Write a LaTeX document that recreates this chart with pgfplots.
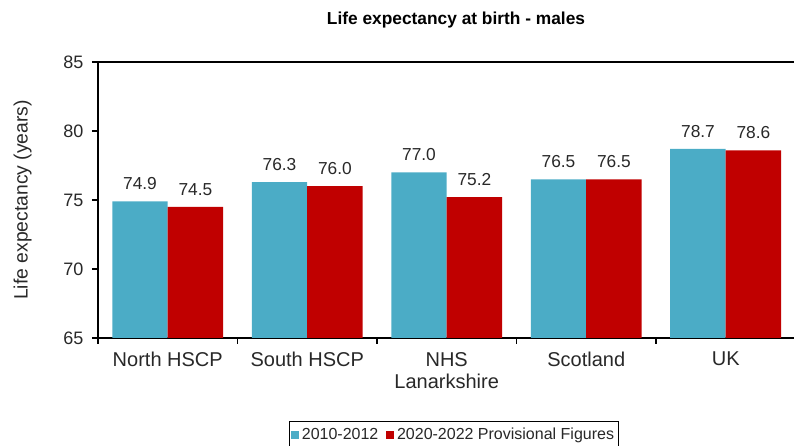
\documentclass[border=0pt]{standalone}
\usepackage{fontspec}
\setmainfont{Liberation Sans}
\usepackage{pgfplots}
\pgfplotsset{compat=1.18}
\definecolor{tealbar}{RGB}{75,172,198}
\definecolor{redbar}{RGB}{192,0,0}
\definecolor{txt}{RGB}{40,40,40}

\begin{document}
\begin{tikzpicture}
\path[use as bounding box] (0pt,0pt) rectangle (595.5pt,334.5pt);
\begin{axis}[
    at={(73.5pt,81pt)}, anchor=south west,
    scale only axis,
    width=523.1pt, height=207pt,
    ybar=0pt, bar width=41.6pt,
    xmin=-0.5, xmax=4.5,
    ymin=65, ymax=85,
    ytick={65,70,75,80,85},
    xtick={0,1,2,3,4},
    xticklabels={North HSCP, South HSCP, NHS\\Lanarkshire, Scotland, UK},
    minor xtick={-0.5,0.5,1.5,2.5,3.5,4.5},
    xtick pos=bottom, ytick pos=left,
    tick align=outside,
    major tick length=4.5pt, minor tick length=4.5pt,
    major x tick style={draw=none},
    minor x tick style={black, line width=0.9pt},
    y tick style={black, line width=0.9pt},
    axis line style={black, line width=1.5pt},
    /pgf/number format/assume math mode=true,
    yticklabel style={font=\fontsize{13.5pt}{15pt}\selectfont, text=txt, xshift=-3pt},
    xticklabel style={font=\fontsize{15pt}{17pt}\selectfont, text=txt, align=center, yshift=-2.5pt},
    nodes near coords={\pgfmathprintnumber[fixed,fixed zerofill,precision=1]{\pgfplotspointmeta}},
    every node near coord/.append style={font=\fontsize{13pt}{15pt}\selectfont, text=txt, yshift=5pt},
    legend columns=2,
    legend style={at={(0.5104,-0.35)}, anchor=center, draw=black, line width=0.6pt,
        font=\fontsize{12pt}{14pt}\selectfont, text=txt,
        /tikz/every even column/.append style={column sep=4pt},
        inner xsep=1pt, inner ysep=3pt},
    legend image code/.code={\fill[#1, draw=none] (0pt,-3pt) rectangle (6pt,3pt);},
]
\addplot[fill=tealbar, draw=none] coordinates {(0,74.9) (1,76.3) (2,77.0) (3,76.5) (4,78.7)};
\addlegendentry{2010-2012}
\addplot[fill=redbar, draw=none] coordinates {(0,74.5) (1,76.0) (2,75.2) (3,76.5) (4,78.6)};
\addlegendentry{2020-2022 Provisional Figures}
\end{axis}
\node[font=\bfseries\fontsize{13pt}{15pt}\selectfont, text=black] at (342pt,319.5pt) {Life expectancy at birth - males};
\node[rotate=90, font=\fontsize{14.5pt}{16pt}\selectfont, text=txt] at (17pt,184.5pt) {Life expectancy (years)};
\end{tikzpicture}
\end{document}
